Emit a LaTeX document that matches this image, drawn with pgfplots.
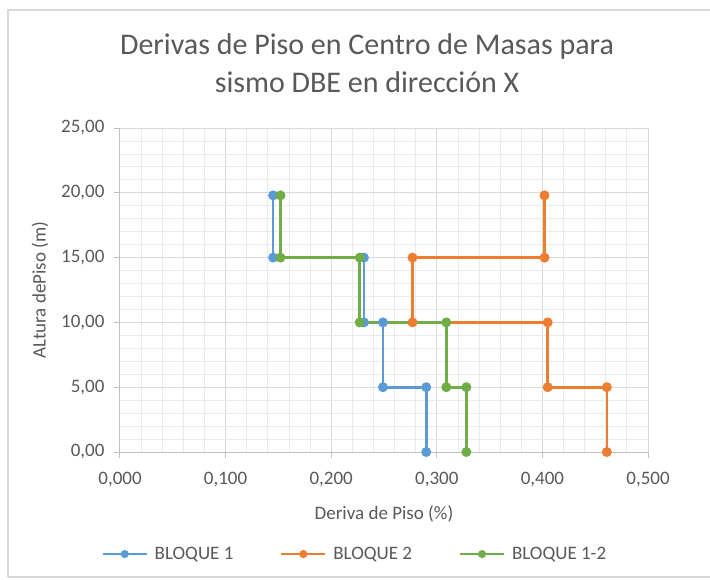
\documentclass[border=0pt]{standalone}
\usepackage{fontspec}
\setmainfont{Carlito}
\usepackage{pgfplots}
\pgfplotsset{compat=1.18}

\definecolor{b1}{HTML}{5B9BD5}
\definecolor{b2}{HTML}{ED7D31}
\definecolor{b3}{HTML}{70AD47}
\definecolor{txt}{HTML}{595959}
\definecolor{gmaj}{HTML}{D9D9D9}
\definecolor{gmin}{HTML}{EAEAEA}
\definecolor{axg}{HTML}{BFBFBF}

\begin{document}
\begin{tikzpicture}[x=1pt,y=1pt]
\useasboundingbox (0,0) rectangle (710,579);
\fill[white] (0,0) rectangle (710,579);
\draw[color=gmaj, line width=1.2] (8,2) -- (8,569) -- (715,569);
\draw[color=gmaj, line width=1.2] (8,2) -- (715,2);
\node[txt, font=\fontsize{30}{36}\selectfont, anchor=base] at (367,524) {Derivas de Piso en Centro de Masas para};
\node[txt, font=\fontsize{30}{36}\selectfont, anchor=base] at (367,486) {sismo DBE en dirección X};
\begin{axis}[
  at={(120pt,127pt)}, anchor=south west,
  scale only axis, width=528pt, height=324pt,
  xmin=0, xmax=0.5, ymin=0, ymax=25,
  xtick={0,0.1,0.2,0.3,0.4,0.5},
  ytick={0,5,10,15,20,25},
  minor x tick num=4, minor y tick num=4,
  grid=both,
  major grid style={color=gmaj, line width=1},
  minor grid style={color=gmin, line width=0.8},
  axis x line*=bottom, axis y line*=left,
  axis line style={color=axg, line width=1, -},
  tick align=outside, major tick length=6pt, minor tick length=0pt,
  tick style={color=axg, line width=1},
  /pgf/number format/assume math mode=true,
  xticklabel style={/pgf/number format/fixed, /pgf/number format/fixed zerofill, /pgf/number format/precision=3, /pgf/number format/use comma, /pgf/number format/1000 sep={}, yshift=-11pt},
  yticklabel style={/pgf/number format/fixed, /pgf/number format/fixed zerofill, /pgf/number format/precision=2, /pgf/number format/use comma, /pgf/number format/1000 sep={}, xshift=-6pt},
  ticklabel style={font=\fontsize{19}{22}\selectfont, text=txt},
  xlabel={Deriva de Piso (\%)},
  ylabel={ALtura dePiso (m)},
  label style={font=\fontsize{19}{22}\selectfont, text=txt},
  xlabel style={at={(axis description cs:0.5,-0.19)}, anchor=center},
  ylabel style={at={(axis description cs:-0.1515,0.5)}, anchor=center, rotate=0},
  legend columns=3,
  legend style={at={(axis description cs:0.445,-0.315)}, anchor=center, draw=none, fill=none,
    font=\fontsize{19}{22}\selectfont, text=txt,
    /tikz/every odd column/.append style={column sep=5pt},
    /tikz/every even column/.append style={column sep=45pt}},
  legend image code/.code={\draw[mark repeat=2, mark phase=2, line width=2pt, mark size=3pt] plot coordinates {(0pt,0pt) (22pt,0pt) (44pt,0pt)};},
]
\addplot[b1, line width=2.6pt, mark=*, mark size=3.6pt] coordinates {
(0.290,0) (0.290,5) (0.249,5) (0.249,10) (0.231,10) (0.231,15) (0.145,15) (0.145,19.8)};
\addlegendentry{BLOQUE 1}
\addplot[b2, line width=2.6pt, mark=*, mark size=3.6pt] coordinates {
(0.461,0) (0.461,5) (0.405,5) (0.405,10) (0.277,10) (0.277,15) (0.402,15) (0.402,19.8)};
\addlegendentry{BLOQUE 2}
\addplot[b3, line width=2.6pt, mark=*, mark size=3.6pt] coordinates {
(0.328,0) (0.328,5) (0.309,5) (0.309,10) (0.227,10) (0.227,15) (0.152,15) (0.152,19.8)};
\addlegendentry{BLOQUE 1-2}
\end{axis}
\end{tikzpicture}
\end{document}
